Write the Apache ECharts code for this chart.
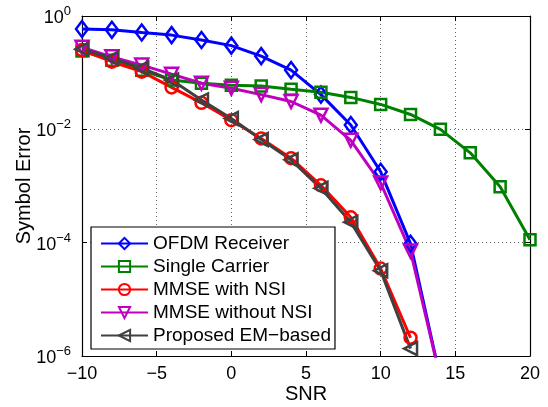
<!DOCTYPE html>
<html>
<head>
<meta charset="utf-8">
<script src="https://cdn.jsdelivr.net/npm/echarts@6/dist/echarts.min.js"></script>
<style>
  html, body { margin: 0; padding: 0; background: #fff; }
  #chart { width: 548px; height: 407px; }
</style>
</head>
<body>
<div id="chart"></div>
<script>
// SNR points
var snrLong = [-10, -8, -6, -4, -2, 0, 2, 4, 6, 8, 10, 12, 14];
var snrFull = [-10, -8, -6, -4, -2, 0, 2, 4, 6, 8, 10, 12, 14, 16, 18, 20];
var snrShort = [-10, -8, -6, -4, -2, 0, 2, 4, 6, 8, 10, 12];

// symbol error values
var ofdm = [0.59, 0.57, 0.51, 0.46, 0.377, 0.30, 0.196, 0.111, 0.041, 0.0119, 1.78e-3, 9.6e-5, 4e-7];
var singleCarrier = [0.24, 0.165, 0.11, 0.074, 0.065, 0.06, 0.058, 0.051, 0.045, 0.0366, 0.0275, 0.0183, 0.01, 3.85e-3, 9.7e-4, 1.13e-4];
var mmseNsi = [0.25, 0.156, 0.104, 0.055, 0.0294, 0.0145, 6.9e-3, 3.1e-3, 1.03e-3, 2.8e-4, 3.5e-5, 2.1e-6];
var mmseNoNsi = [0.28, 0.19, 0.136, 0.094, 0.065, 0.053, 0.041, 0.031, 0.0178, 6.4e-3, 1.13e-3, 7.1e-5, 4e-7];
var proposedEm = [0.26, 0.18, 0.12, 0.074, 0.033, 0.0155, 6.6e-3, 2.9e-3, 9.1e-4, 2.3e-4, 3.2e-5, 1.35e-6];

var xTicks = [-10, -5, 0, 5, 10, 15, 20];

function pairs(xs, ys) {
  var out = [];
  for (var i = 0; i < ys.length; i++) out.push([xs[i], ys[i]]);
  return out;
}

var font = 'Liberation Sans';
var chart = echarts.init(document.getElementById('chart'));

function mkSeries(name, xs, ys, color, symbol, size, rotate) {
  return {
    name: name,
    type: 'line',
    data: pairs(xs, ys),
    color: color,
    symbol: symbol,
    symbolSize: size,
    symbolRotate: rotate || 0,
    showAllSymbol: true,
    lineStyle: { color: color, width: 3 },
    itemStyle: { color: 'rgba(255,255,255,0)', borderColor: color, borderWidth: 2.5 },
    emphasis: { disabled: true },
    clip: true,
    animation: false
  };
}

var tickStyle = { inside: true, length: 5, lineStyle: { color: '#000' } };
var lineStyleAx = { show: true, onZero: false, lineStyle: { color: '#000', width: 1.2 } };
var gridDots = { show: true, lineStyle: { color: '#666', type: [1, 3], width: 1 } };

chart.setOption({
  animation: false,
  grid: { left: 82, right: 18, top: 16, bottom: 51, outerBoundsMode: 'none', containLabel: false },
  legend: {
    orient: 'vertical',
    left: 91,
    top: 227,
    padding: [7, 4, 4, 9],
    itemWidth: 47,
    itemHeight: 14,
    itemGap: 4,
    backgroundColor: '#fff',
    borderColor: '#000',
    borderWidth: 1.2,
    textStyle: { fontFamily: font, fontSize: 19, color: '#000', padding: [0, 0, 0, 0] },
    data: ['OFDM Receiver', 'Single Carrier', 'MMSE with NSI', 'MMSE without NSI', 'Proposed EM\u2212based']
  },
  xAxis: [{
    type: 'value',
    min: -10, max: 20, interval: 5,
    name: 'SNR',
    nameLocation: 'middle',
    nameGap: 28,
    nameMoveOverlap: false,
    nameTextStyle: { fontFamily: font, fontSize: 20, color: '#000' },
    axisLine: lineStyleAx,
    axisTick: tickStyle,
    axisLabel: {
      fontFamily: font, fontSize: 18, color: '#000', margin: 9,
      formatter: function (v) { return xTicks.indexOf(v) >= 0 ? String(v).replace('-', '\u2212') : ''; }
    },
    splitLine: gridDots
  }, {
    type: 'value', position: 'top',
    min: -10, max: 20, interval: 5,
    axisLine: lineStyleAx,
    axisTick: tickStyle,
    axisLabel: { show: false },
    splitLine: { show: false }
  }],
  yAxis: [{
    type: 'log',
    logBase: 100,
    min: 1e-6, max: 1,
    name: 'Symbol Error',
    nameLocation: 'middle',
    nameGap: 48,
    nameMoveOverlap: false,
    nameTextStyle: { fontFamily: font, fontSize: 20, color: '#000' },
    axisLine: lineStyleAx,
    axisTick: { show: true, inside: true, length: 5, lineStyle: { color: '#000' } },
    minorTick: { show: false },
    axisLabel: {
      margin: 11,
      formatter: function (v) {
        var e = Math.round(Math.log10(v));
        return '{b|10}{s|' + String(e).replace('-', '\u2212') + '}';
      },
      rich: {
        b: { fontFamily: font, fontSize: 18, color: '#000', lineHeight: 22, verticalAlign: 'bottom' },
        s: { fontFamily: font, fontSize: 13, color: '#000', lineHeight: 22, verticalAlign: 'top' }
      }
    },
    splitLine: gridDots
  }, {
    type: 'log',
    logBase: 100,
    min: 1e-6, max: 1,
    position: 'right',
    axisLine: lineStyleAx,
    axisTick: { show: true, inside: true, length: 5, lineStyle: { color: '#000' } },
    axisLabel: { show: false },
    splitLine: { show: false }
  }],
  series: [
    mkSeries('OFDM Receiver', snrLong, ofdm, '#0000ff', 'diamond', [12, 16]),
    mkSeries('Single Carrier', snrFull, singleCarrier, '#008000', 'rect', 11),
    mkSeries('MMSE with NSI', snrShort, mmseNsi, '#ff0000', 'circle', 12),
    mkSeries('MMSE without NSI', snrLong, mmseNoNsi, '#bf00bf', 'triangle', 13, 180),
    mkSeries('Proposed EM\u2212based', snrShort, proposedEm, '#404040', 'triangle', 13, 90)
  ]
});
</script>
</body>
</html>
